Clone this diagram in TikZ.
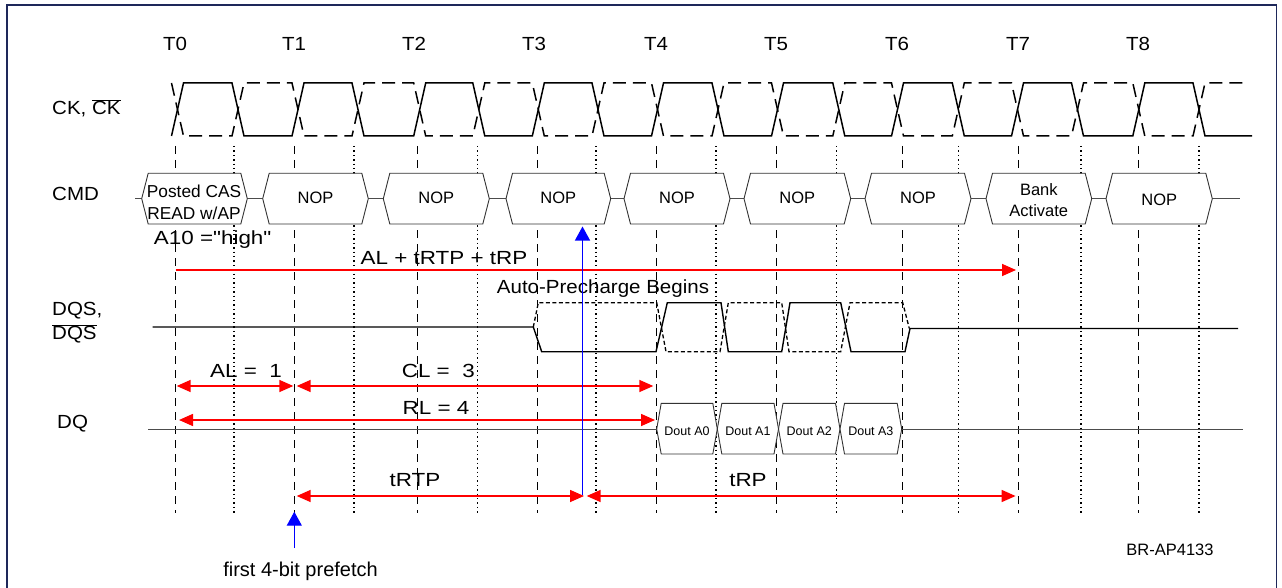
\documentclass[tikz,border=0pt]{standalone}
\usepackage{fontspec}
\setmainfont{Liberation Sans}
\newfontfamily\widefont{Liberation Sans}[FakeStretch=1.18]
\newfontfamily\midfont{Liberation Sans}[FakeStretch=1.08]
\usetikzlibrary{arrows.meta}
\definecolor{framenavy}{RGB}{30,40,90}
\begin{document}
\begin{tikzpicture}[x=1pt,y=-1pt,
  vdash/.style={black,line width=1.2pt,dash pattern=on 8pt off 6pt},
  vdot/.style={black,line width=1.2pt,dash pattern=on 1.4pt off 3pt},
  clk/.style={black,line width=1.5pt,line join=miter},
  clkb/.style={black,line width=1.5pt,dash pattern=on 13pt off 7pt},
  sig/.style={black,line width=1.4pt},
  sigb/.style={black,line width=1.3pt,dash pattern=on 4pt off 2.5pt},
  cmdbox/.style={draw=black!80,fill=white,line width=0.9pt},
  wire/.style={black!70,line width=1pt},
  redarr/.style={red,line width=1.6pt,{Triangle[length=14pt,width=12pt]}-{Triangle[length=14pt,width=12pt]}},
  redend/.style={red,line width=1.6pt,-{Triangle[length=14pt,width=12pt]}},
  bluearr/.style={blue,line width=1.3pt,-{Triangle[length=14pt,width=15pt]}},
  lbl/.style={inner sep=0pt,font=\midfont\fontsize{19}{22}\selectfont},
  big/.style={inner sep=0pt,font=\widefont\fontsize{19}{22}\selectfont},
  cmdtxt/.style={inner sep=0pt,align=center,font=\fontsize{16.5}{21}\selectfont},
  dout/.style={inner sep=0pt,font=\fontsize{12.5}{14}\selectfont}]
\useasboundingbox (0,0) rectangle (1282,588);
\draw[framenavy,line width=1.5pt] (7,5) rectangle (1276.5,640);

% time labels
\foreach \x/\n in {175/0,294/1,414/2,534/3,656/4,776/5,897/6,1018/7,1138/8}
  \node[lbl] (t\n) at (\x,44) {T\n};

% vertical guide lines
\foreach \x in {175.7,294.3,417.3,537.3,656.7,776.7,902.5,1018.3,1138.3}
  \draw[vdash] (\x,146) -- (\x,513);
\foreach \x in {234,354,477.3,596,716,836.7,958.3,1081,1199}
  \draw[vdot] (\x,146) -- (\x,513);

% signal names
\node[lbl,anchor=west] (ck) at (52,108) {CK, $\overline{\mbox{CK}}$};
\node[lbl,anchor=west] (cmd) at (52,194) {CMD};
\node[lbl,anchor=west] (dqs1) at (52,311) {DQS,};
\node[lbl,anchor=west] (dqs2) at (52,334) {$\overline{\mbox{DQS}}$};
\node[lbl,anchor=west] (dq) at (57,424) {DQ};

% clock
\draw[clk] (171.5,136) -- (183.5,83) -- (232,83) -- (244,136) -- (292,136) -- (304,83) -- (352,83) -- (364,136) -- (413.7,136) -- (425.7,83) -- (472.8,83) -- (484.8,136) -- (532.3,136) -- (544.3,83) -- (592,83) -- (604,136) -- (651.5,136) -- (663.5,83) -- (712,83) -- (724,136) -- (771.5,136) -- (783.5,83) -- (832.8,83) -- (844.8,136) -- (891.5,136) -- (903.5,83) -- (952.3,83) -- (964.3,136) -- (1011.5,136) -- (1023.5,83) -- (1071.5,83) -- (1083.5,136) -- (1132.8,136) -- (1144.8,83) -- (1193,83) -- (1205,136) -- (1252,136);
\draw[clkb] (171.5,83) -- (183.5,136) -- (232,136) -- (244,83) -- (292,83) -- (304,136) -- (352,136) -- (364,83) -- (413.7,83) -- (425.7,136) -- (472.8,136) -- (484.8,83) -- (532.3,83) -- (544.3,136) -- (592,136) -- (604,83) -- (651.5,83) -- (663.5,136) -- (712,136) -- (724,83) -- (771.5,83) -- (783.5,136) -- (832.8,136) -- (844.8,83) -- (891.5,83) -- (903.5,136) -- (952.3,136) -- (964.3,83) -- (1011.5,83) -- (1023.5,136) -- (1071.5,136) -- (1083.5,83) -- (1132.8,83) -- (1144.8,136) -- (1193,136) -- (1205,83) -- (1245,83);

% command bus
\draw[wire] (135,198.7) -- (1240,198.7);
\foreach \l/\r in {141.7/247.3,262.7/368.3,383.3/489.3,506/610.7,624/730,744/850.7,865/971,986/1091.7,1106/1212.3}
  \draw[cmdbox] (\l,198.7) -- (\l+6.5,173.3) -- (\r-6.5,173.3) -- (\r,198.7) -- (\r-6.5,224) -- (\l+6.5,224) -- cycle;
\node[cmdtxt,font=\fontsize{17.3}{22}\selectfont] (c0) at (194,202) {Posted CAS\\READ w/AP};
\foreach \l/\r/\n in {262.7/368.3/1,383.3/489.3/2,506/610.7/3,624/730/4,744/850.7/5,865/971/6}
  \node[cmdtxt] (c\n) at ({(\l+\r)/2},197.5) {NOP};
\node[cmdtxt] (c7) at (1038.8,200) {Bank\\Activate};
\node[cmdtxt] (c8) at (1159.2,199.5) {NOP};
\node[big] (a10) at (212.7,240) {A10 ="high"};

% DQS
\draw[sig] (152.7,327) -- (533.3,327) -- (541.7,351.7) -- (656,351.7) -- (667.3,302.7) -- (721,302.7) -- (728.3,351.7) -- (781.7,351.7) -- (790,302.7) -- (840.7,302.7) -- (851,351.7) -- (905,351.7) -- (910,328.5) -- (1238,328.5);
\draw[sigb] (533.3,327) -- (538.3,302.7) -- (656.7,302.7) -- (666,351.7) -- (720,351.7) -- (728.3,302.7) -- (781.7,302.7) -- (789,351.7) -- (840.7,351.7) -- (850,302.7) -- (902.7,302.7) -- (909.3,328.5);

% DQ
\draw[wire] (148.3,429) -- (1243,429);
\foreach \a/\b/\n in {656.7/717.3/0,717.3/778.5/1,778.5/840/2,840/901.7/3}{
  \draw[cmdbox] (\a,429) -- (\a+4.5,403.3) -- (\b-4.5,403.3) -- (\b,429) -- (\b-4.5,454) -- (\a+4.5,454) -- cycle;
  \node[dout] (d\n) at ({(\a+\b)/2},431) {Dout A\n};
}

% timing arrows
\coordinate (p0) at (175.7,270);
\coordinate (p7) at (1016,270);
\draw[redend] (p0) -- (p7);
\node[big] (sum) at (444,258) {AL + tRTP + tRP};
\node[inner sep=0pt,font=\midfont\fontsize{19}{22}\selectfont] (apb) at (603,289) {Auto-Precharge Begins};

\coordinate (al0) at (176.7,386);
\coordinate (al1) at (293.3,386);
\coordinate (cl0) at (296.7,386);
\coordinate (cl1) at (653.3,386);
\coordinate (rl0) at (179,420);
\coordinate (rl1) at (655,420);
\draw[redarr] (al0) -- (al1);
\draw[redarr] (cl0) -- (cl1);
\draw[redarr] (rl0) -- (rl1);
\node[big] (al) at (246,370.7) {AL =\ \ 1};
\node[big] (cl) at (438.3,370.7) {CL =\ \ 3};
\node[big] (rl) at (436,408.3) {RL = 4};

\coordinate (rtp0) at (296.7,496);
\coordinate (rtp1) at (584,496);
\coordinate (rp0) at (586.7,496);
\coordinate (rp1) at (1015.6,496);
\draw[redarr] (rtp0) -- (rtp1);
\draw[redarr] (rp0) -- (rp1);
\node[big] (trtp) at (415,480) {tRTP};
\node[big] (trp) at (748,480) {tRP};

% blue markers
\coordinate (b0) at (582.5,495);
\coordinate (b1) at (582.5,226.5);
\draw[bluearr] (b0) -- (b1);
\coordinate (f0) at (294.3,548);
\coordinate (f1) at (294.3,511.7);
\draw[bluearr] (f0) -- (f1);
\node[inner sep=0pt,font=\fontsize{20}{23}\selectfont] (pf) at (300.5,571) {first 4-bit prefetch};
\node[inner sep=0pt,font=\fontsize{16.5}{19}\selectfont] (id) at (1170,550) {BR-AP4133};
\end{tikzpicture}
\end{document}
